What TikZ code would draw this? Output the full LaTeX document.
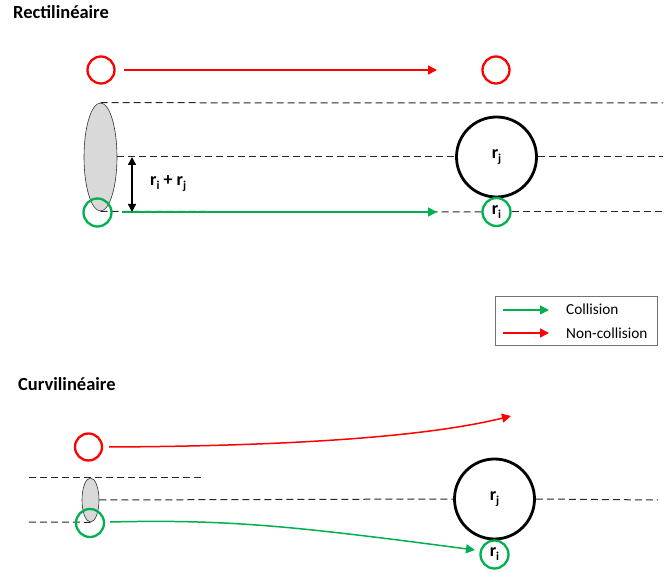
\documentclass[tikz,border=0pt]{standalone}
\usepackage{fontspec}
\setmainfont{Carlito}
\usetikzlibrary{shapes.geometric,arrows.meta}
\definecolor{myred}{RGB}{255,0,0}
\definecolor{mygreen}{RGB}{0,176,80}
\definecolor{ellfill}{RGB}{217,217,217}
\newcommand{\mysub}[1]{\raisebox{-4pt}{\fontsize{12}{12}\selectfont #1}}
\tikzset{
  redring/.style={circle,draw=myred,line width=2.3pt,minimum size=27pt,inner sep=0pt},
  greenring/.style={circle,draw=mygreen,line width=2.3pt,minimum size=28pt,inner sep=0pt,font=\fontsize{18}{20}\selectfont\bfseries},
  bigring/.style={circle,draw=black,line width=2.8pt,minimum size=80pt,inner sep=0pt,font=\fontsize{18}{20}\selectfont\bfseries},
  ell/.style={ellipse,draw=black!80,line width=0.6pt,fill=ellfill,inner sep=0pt},
  dashline/.style={draw=black!85,line width=1pt,dash pattern=on 7pt off 4pt},
  redarrow/.style={draw=myred,line width=1.5pt,-{Triangle[length=9pt,width=9pt]}},
  greenarrow/.style={draw=mygreen,line width=1.5pt,-{Triangle[length=9pt,width=9pt]}},
  titletext/.style={anchor=base west,inner sep=0pt,font=\fontsize{18.5}{21}\selectfont\bfseries},
  legtext/.style={anchor=base west,inner sep=0pt,font=\fontsize{15.3}{17}\selectfont},
}
\begin{document}
\begin{tikzpicture}[x=1pt,y=-1pt]
\useasboundingbox (0,0) rectangle (665,572);
% ---------- Rectilineaire ----------
\node[titletext] (t1) at (13,18.5) {Rectilinéaire};
\node[ell,minimum width=33pt,minimum height=108pt] (e1) at (100.5,157) {};
\coordinate (d1r) at (663,103);
\coordinate (d2r) at (663,157);
\coordinate (d3r) at (663,212);
\node[bigring] (bj1) at (496.5,157) {r\mysub{j}};
\node[greenring] (ri1) at (496.5,212) {r\mysub{i}};
\draw[dashline] (e1.north) -- (d1r);
\draw[dashline] (e1.east) -- (bj1.west);
\draw[dashline] (bj1.east) -- (d2r);
\draw[dashline] (e1.south) -- (ri1.west);
\draw[dashline] (ri1.east) -- (d3r);
\node[redring] (rl1) at (101,70) {};
\node[redring] (rr1) at (496,70) {};
\node[greenring] (gl1) at (97.5,212.5) {};
\coordinate (ra1) at (437,70);
\coordinate (ga1) at (437,212);
\draw[redarrow] (rl1.east)++(8,0) -- (ra1);
\draw[greenarrow] (gl1.east)++(9,-0.5) -- (ga1);
\coordinate (da) at (132,157);
\coordinate (db) at (132,212);
\draw[line width=1.3pt,{Triangle[length=8pt,width=8pt]}-{Triangle[length=8pt,width=8pt]}] (da) -- (db);
\node[anchor=west,inner sep=0pt,font=\fontsize{18}{20}\selectfont\bfseries] (lab) at (150,184) {r\mysub{i} + r\mysub{j}};
% ---------- Legend ----------
\node[draw=black!55,line width=0.8pt,minimum width=162pt,minimum height=49pt,inner sep=0pt] (leg) at (576,320.5) {};
\coordinate (lg1) at (503,310);
\coordinate (lg2) at (549,310);
\coordinate (lr1) at (503,333);
\coordinate (lr2) at (549,333);
\draw[greenarrow] (lg1) -- (lg2);
\draw[redarrow] (lr1) -- (lr2);
\node[legtext] (lc) at (566,315) {Collision};
\node[legtext] (ln) at (566,338.5) {Non-collision};
% ---------- Curvilineaire ----------
\node[titletext] (t2) at (18,390.5) {Curvilinéaire};
\node[ell,minimum width=17pt,minimum height=44pt] (e2) at (90.5,500) {};
\coordinate (c1a) at (29,478);
\coordinate (c1b) at (203,478);
\coordinate (c2r) at (658,500);
\coordinate (c3a) at (29,522);
\node[bigring] (bj2) at (494.5,499) {r\mysub{j}};
\node[greenring] (ri2) at (494.5,554.5) {r\mysub{i}};
\draw[dashline] (c1a) -- (c1b);
\draw[dashline] (e2.east) -- (bj2.west);
\draw[dashline] (bj2.east) -- (c2r);
\draw[dashline] (c3a) -- (e2.south);
\node[redring] (rl2) at (88.5,447) {};
\node[greenring] (gl2) at (90,523) {};
\coordinate (ra2) at (511,416);
\coordinate (ga2) at (475,550);
\draw[redarrow] (rl2.east)++(6,0) .. controls (300,446) and (430,436) .. (ra2);
\draw[greenarrow] (gl2.east)++(5,-1) .. controls (230,519) and (300,527) .. (ga2);
\end{tikzpicture}
\end{document}
